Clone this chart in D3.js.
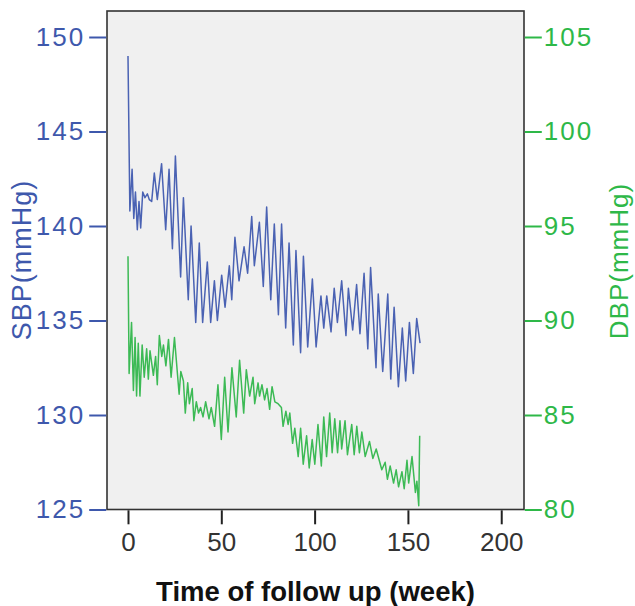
<!DOCTYPE html>
<html><head><meta charset="utf-8">
<script src="https://cdn.jsdelivr.net/npm/d3@7"></script>
<style>
html,body{margin:0;padding:0;background:#fff;}
svg{display:block;font-family:"Liberation Sans",Arial,sans-serif;}
</style></head>
<body><svg id="c" width="635" height="606"></svg>
<script>
// ---- data ----
const xTicks = [0, 50, 100, 150, 200];
const sbpTicks = [125, 130, 135, 140, 145, 150];
const dbpTicks = [80, 85, 90, 95, 100, 105];

const sbpWeeks = [0,1,2.2,3.1,4,5,5.9,6.8,7.9,9.1,10.4,11.4,12.7,14.1,15.7,18,20.2,22,23.8,25.4,
  28.2,29.7,32.3,33.8,36.3,38.2,40,42.5,44.3,46.3,47.9,50.2,52,54.3,55.6,57.3,59.5,62.2,64.1,66.3,
  67.7,70.4,72.5,74.3,76.5,78.4,80.6,82.3,84.5,86.3,88.6,90,92.5,94,96.3,98.8,100.8,103.4,104.9,106.5,
  108.8,110.5,112.2,114.5,116.8,118.1,120.4,122.5,124.3,126.5,128.5,130,132.9,134.1,136.5,139.2,140.8,142.6,144.9,147,
  148.8,150.8,152.9,154.7,156.5];
const sbpValues = [149,140.8,143,140.4,141.8,139.8,141.3,139.9,141.8,141.5,141.7,141.4,141.3,142.8,141.4,143.3,139.8,143,138.8,143.7,
  137.3,141.5,136.1,140,134.9,139.1,134.9,138.1,134.9,137.1,135,137.4,135.7,137.9,136.1,139.4,137.1,138.9,137.5,140.5,
  137.9,140.2,136.8,141,136.1,140.1,135.3,140.1,134.6,139.1,133.7,138.7,133.3,138.4,133.6,137.2,133.6,136.3,134.6,136.3,
  134.4,136.7,134.9,137.1,134.2,136.7,134.5,136.9,134.3,137.5,133.5,137.8,132.5,136.4,132.3,136.4,131.9,135.7,131.5,134.6,
  131.8,134.9,132.2,135.1,133.8];

const dbpWeeks = [0,0.6,1.9,2.9,3.8,4.6,5.5,6.4,7.6,8.7,10,10.9,11.8,13.6,14.8,15.7,16.8,18.1,19,20.3,
  21.7,23.1,24.9,27.4,28.3,29.7,30.7,32,32.9,34.4,35.3,36.6,37.8,38.9,40.2,41.6,43.4,44.6,46.4,48.2,
  50,51.8,53.6,55.7,58,59.8,62,63.4,65.2,67,67.9,69.7,70.5,71.8,73.2,74.5,75.9,77.2,78.7,80.4,
  82.2,83.1,84.6,85.8,86.7,88.2,89.4,91.2,92.5,93.9,95.7,97.1,98.7,100.1,101.8,103.6,104.9,106.4,108.1,109.4,
  110.8,112.3,113.6,114.5,116.3,117.6,119.9,121.2,122.6,124,125.3,127.1,129.4,131.2,133,136,137.8,139,140.5,142.3,
  143.7,145,146.8,148,149.5,150.4,152.2,154,154.8,155.8,156.3];
const dbpValues = [93.4,87.2,89.9,86.3,89.1,86,88.8,86,88.7,87,88.5,86.9,88.4,87.1,88.1,86.6,89.2,88.1,88.7,87.6,
  89,87,89.1,86.1,87.3,86.8,85.1,86.7,85.6,86.4,84.7,85.7,85.1,85.4,84.9,85.7,84.8,85.4,84.4,86.6,
  83.7,87,84.1,87.5,84.9,87.9,85.1,87.4,86,87,85.6,86.7,86,86.6,85.8,86.4,85.3,86.5,85.7,85.6,
  85.4,84.4,85.2,84.5,85.1,83.5,84.3,82.8,84.3,82.4,83.9,82.2,83.7,82.4,84.5,82.3,84.9,82.8,85.1,83,
  84.8,83,84.7,83.2,84.7,82.9,84.5,82.9,84.4,83,84.1,82.8,83.6,82.7,83.2,82.1,82.5,81.6,82.3,81.4,
  82.1,81.2,82,81.1,82.6,81.4,82.8,80.9,81.5,80.2,83.9];

const xTitle = "Time of follow up (week)";
const sbpTitle = "SBP(mmHg)";
const dbpTitle = "DBP(mmHg)";

// ---- layout ----
const L = 107, R = 524, T = 11, B = 509.5;
const BLUE = "#3E58AC", GREEN = "#2EB848";

const x = d3.scaleLinear().domain([-11.25, 212.2]).range([L, R]);
const yS = d3.scaleLinear().domain([125, 150]).range([B, 37]);
const yD = d3.scaleLinear().domain([80, 105]).range([B, 37]);

const svg = d3.select("#c");

svg.append("rect").attr("x", L).attr("y", T).attr("width", R - L).attr("height", B - T)
  .attr("fill", "#f0f0f0");

// lines
const sbpData = sbpWeeks.map((w, i) => [w, sbpValues[i]]);
const dbpData = dbpWeeks.map((w, i) => [w, dbpValues[i]]);

svg.append("path").datum(sbpData)
  .attr("fill", "none").attr("stroke", "#4a62b3").attr("stroke-width", 1.5)
  .attr("stroke-linejoin", "round")
  .attr("d", d3.line().x(d => x(d[0])).y(d => yS(d[1])));
svg.append("path").datum(dbpData)
  .attr("fill", "none").attr("stroke", "#3cba55").attr("stroke-width", 1.5)
  .attr("stroke-linejoin", "round")
  .attr("d", d3.line().x(d => x(d[0])).y(d => yD(d[1])));

// frame
svg.append("rect").attr("x", L).attr("y", T).attr("width", R - L).attr("height", B - T)
  .attr("fill", "none").attr("stroke", "#333").attr("stroke-width", 1.6);

// left axis
const gl = svg.append("g").attr("transform", `translate(${L - 0.8},0)`)
  .call(d3.axisLeft(yS).tickValues(sbpTicks).tickSize(17).tickPadding(4).tickFormat(d3.format("d")));
gl.select(".domain").remove();
gl.selectAll(".tick line").attr("stroke", BLUE).attr("stroke-width", 2);
gl.selectAll(".tick text").attr("fill", BLUE).style("font-size", "26px")
  .style("letter-spacing", "2px").attr("font-family", null);

// right axis
const gr = svg.append("g").attr("transform", `translate(${R + 0.8},0)`)
  .call(d3.axisRight(yD).tickValues(dbpTicks).tickSize(17).tickPadding(2).tickFormat(d3.format("d")));
gr.select(".domain").remove();
gr.selectAll(".tick line").attr("stroke", GREEN).attr("stroke-width", 2);
gr.selectAll(".tick text").attr("fill", GREEN).style("font-size", "26px")
  .style("letter-spacing", "2px").attr("font-family", null);

// bottom axis
const gb = svg.append("g").attr("transform", `translate(0,${B + 0.8})`)
  .call(d3.axisBottom(x).tickValues(xTicks).tickSize(14).tickFormat(d3.format("d")));
gb.select(".domain").remove();
gb.selectAll(".tick line").attr("stroke", "#222").attr("stroke-width", 2);
gb.selectAll(".tick text").attr("fill", "#333").style("font-size", "26px")
  .attr("y", 41).attr("dy", 0).attr("font-family", null);

// titles
svg.append("text").attr("x", (L + R) / 2).attr("y", 601).attr("text-anchor", "middle")
  .style("font-size", "27.5px").style("font-weight", "bold").attr("fill", "#111").text(xTitle);
svg.append("text").attr("transform", "translate(31,260) rotate(-90)").attr("text-anchor", "middle")
  .style("font-size", "27px").style("letter-spacing", "1px").attr("fill", BLUE).text(sbpTitle);
svg.append("text").attr("transform", "translate(628,261) rotate(-90)").attr("text-anchor", "middle")
  .style("font-size", "26px").style("letter-spacing", "1px").attr("fill", GREEN).text(dbpTitle);
</script>
</body></html>
